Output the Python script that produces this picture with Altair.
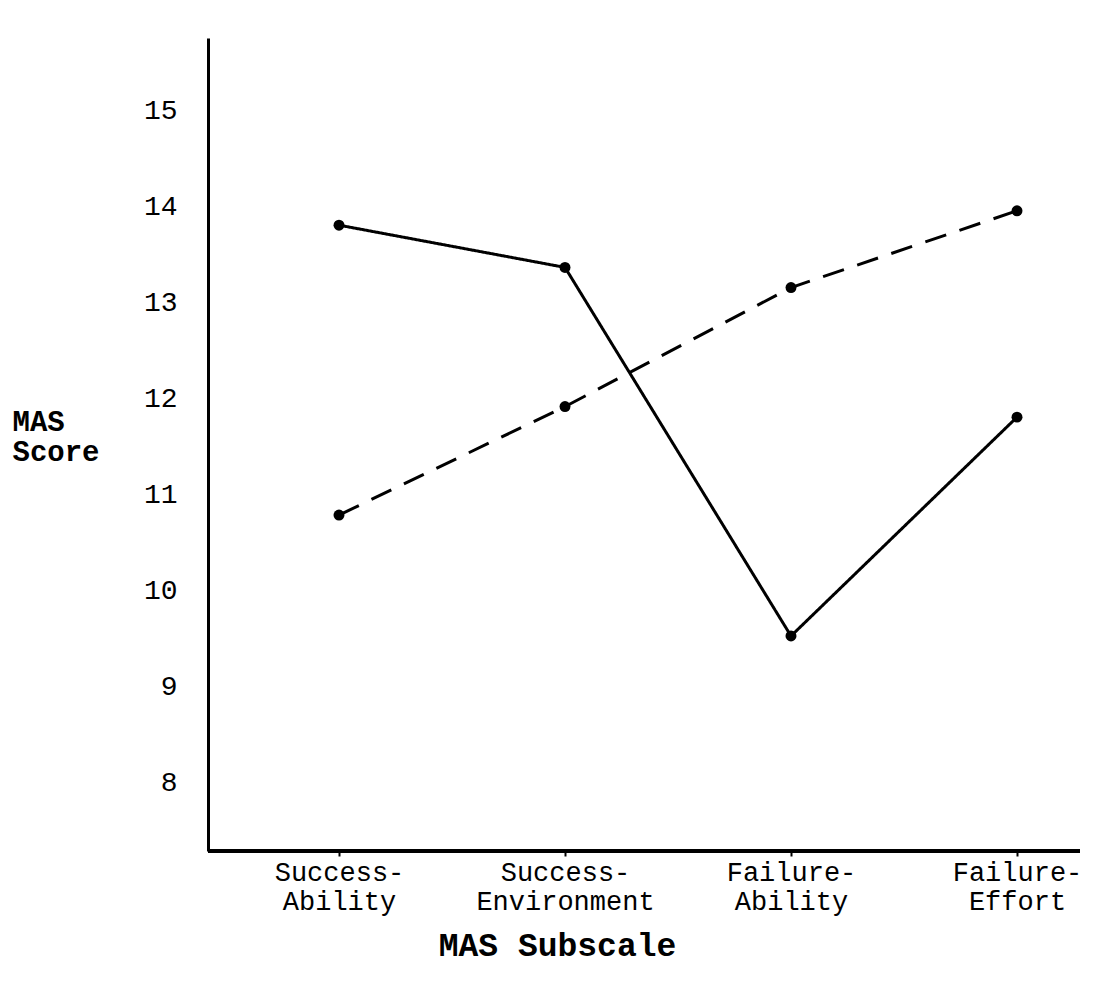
import altair as alt
import pandas as pd

subscales = ["Success-Ability", "Success-Environment", "Failure-Ability", "Failure-Effort"]
solid_scores = [13.81, 13.37, 9.53, 11.81]
dashed_scores = [10.79, 11.92, 13.16, 13.96]
y_ticks = [8, 9, 10, 11, 12, 13, 14, 15]

rows = []
for s, v in zip(subscales, solid_scores):
    rows.append({"subscale": s, "score": v, "group": "Solid"})
for s, v in zip(subscales, dashed_scores):
    rows.append({"subscale": s, "score": v, "group": "Dashed"})
df = pd.DataFrame(rows)

FONT = "Liberation Mono"
W, H = 872, 813

x_enc = alt.X(
    "subscale:N",
    sort=subscales,
    scale=alt.Scale(type="point", range=[131, 809], padding=0),
    axis=alt.Axis(
        title="MAS Subscale",
        titleFont=FONT,
        titleFontSize=33,
        titleFontWeight="bold",
        titleColor="black",
        titleX=349,
        titleY=104,
        titleBaseline="alphabetic",
        titleAnchor="start",
        titleAlign="center",
        labelExpr="[split(datum.label, '-')[0] + '-', split(datum.label, '-')[1]]",
        labelFont=FONT,
        labelFontSize=27,
        labelColor="black",
        labelAngle=0,
        labelLineHeight=29,
        labelPadding=3,
        labelBaseline="top",
        labelLimit=400,
        labelOverlap=False,
        domain=False,
        ticks=True,
        tickColor="black",
        tickSize=5,
        tickWidth=2,
        grid=False,
    ),
)

y_enc = alt.Y(
    "score:Q",
    scale=alt.Scale(domain=[7.29, 15.76], nice=False, zero=False),
    axis=alt.Axis(
        values=y_ticks,
        title=["MAS", "Score"],
        titleFont=FONT,
        titleFontSize=29,
        titleFontWeight="bold",
        titleColor="black",
        titleAngle=0,
        titleAlign="left",
        titleBaseline="alphabetic",
        titleAnchor="start",
        titleX=-196,
        titleY=392,
        titleLineHeight=30,
        labelFont=FONT,
        labelFontSize=28,
        labelColor="black",
        labelPadding=31,
        ticks=False,
        domainColor="black",
        domainWidth=3,
        grid=False,
    ),
)

dash = alt.StrokeDash(
    "group:N",
    scale=alt.Scale(domain=["Solid", "Dashed"], range=[[1, 0], [22, 14]]),
    legend=None,
)

base = alt.Chart(df)

x_axis_line = base.mark_rule(color="black", strokeWidth=3).encode(
    x=alt.value(0), x2=alt.value(W), y=alt.value(H)
)

lines = base.mark_line(color="black", strokeWidth=3).encode(
    x=x_enc, y=y_enc, strokeDash=dash, detail="group:N"
)
points = base.mark_circle(color="black", opacity=1, size=120).encode(
    x=x_enc, y=y_enc
)

chart = (
    alt.layer(x_axis_line, lines, points)
    .properties(
        width=W,
        height=H,
        autosize=alt.AutoSizeParams(type="none"),
        padding={"left": 200, "top": 30, "right": 5, "bottom": 114},
        background="white",
    )
    .configure_view(stroke=None)
)

chart.save("out.html", embed_options={"renderer": "svg", "actions": False})
